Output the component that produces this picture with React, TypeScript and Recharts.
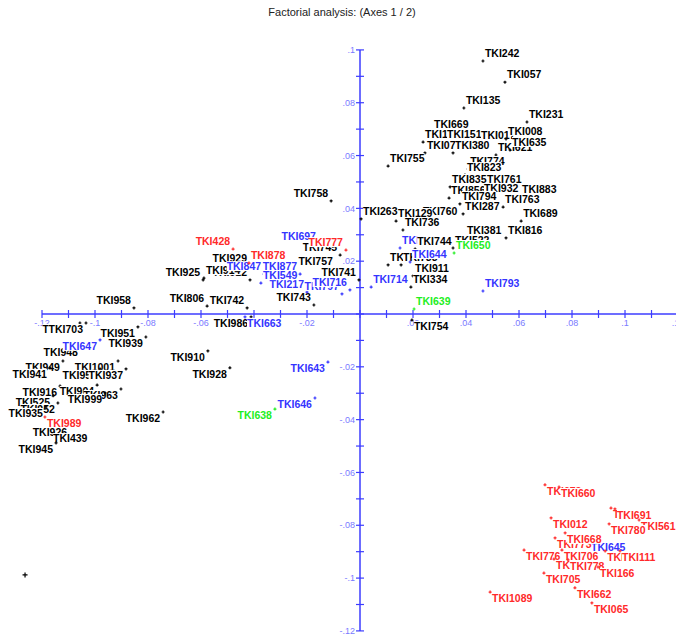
import { ScatterChart, Scatter, XAxis, YAxis, ReferenceLine } from 'recharts';

type Pt = [string, number, number];

// factorial coordinates: [name, axis 1, axis 2]
const blackPoints: Pt[] = [
  ['TKI242', 0.0464, 0.0958], ['TKI057', 0.0547, 0.0878], ['TKI135', 0.0392, 0.078],
  ['TKI231', 0.063, 0.0727], ['TKI669', 0.0272, 0.0689], ['TKI150', 0.0238, 0.0651],
  ['TKI151', 0.0321, 0.0651], ['TKI017', 0.0449, 0.0647], ['TKI008', 0.0551, 0.0663],
  ['TKI071', 0.0245, 0.061], ['TKI380', 0.0351, 0.061], ['TKI621', 0.0513, 0.0602],
  ['TKI635', 0.0566, 0.0621], ['TKI755', 0.0106, 0.056], ['TKI774', 0.0408, 0.0549],
  ['TKI823', 0.0396, 0.0526], ['TKI835', 0.034, 0.0481], ['TKI761', 0.0472, 0.0481],
  ['TKI856', 0.0336, 0.0439], ['TKI932', 0.046, 0.0447], ['TKI883', 0.0604, 0.0443],
  ['TKI794', 0.0377, 0.0417], ['TKI763', 0.054, 0.0405], ['TKI287', 0.0389, 0.0379],
  ['TKI689', 0.0608, 0.0352], ['TKI816', 0.0551, 0.0288], ['TKI381', 0.0396, 0.0288],
  ['TKI760', 0.023, 0.036], ['TKI263', 0.0004, 0.036], ['TKI129', 0.0136, 0.0352],
  ['TKI736', 0.0162, 0.0318], ['TKI744', 0.0208, 0.0246], ['TKI522', 0.0351, 0.025],
  ['TKI726', 0.0106, 0.0186], ['TKI733', 0.0155, 0.0186], ['TKI911', 0.02, 0.0144],
  ['TKI334', 0.0192, 0.0102], ['TKI754', 0.0196, -0.0023], ['TKI758', -0.0109, 0.0428],
  ['TKI745', -0.0075, 0.0223], ['TKI757', -0.0091, 0.017], ['TKI741', -0.0004, 0.0129],
  ['TKI929', -0.0415, 0.0182], ['TKI912', -0.0415, 0.0129], ['TKI914', -0.0589, 0.0136],
  ['TKI925', -0.0592, 0.0129], ['TKI806', -0.0577, 0.003], ['TKI742', -0.0426, 0.0023],
  ['TKI743', -0.0174, 0.0034], ['TKI958', -0.0853, 0.0023], ['TKI986', -0.0411, -0.0011],
  ['TKI951', -0.0838, -0.0049], ['TKI939', -0.0808, -0.0087], ['TKI910', -0.0574, -0.014],
  ['TKI928', -0.0491, -0.0204], ['TKI962', -0.0743, -0.0371], ['TKI701', -0.1057, -0.0034],
  ['TKI703', -0.1034, -0.0034], ['TKI948', -0.1053, -0.0121], ['TKI949', -0.1121, -0.0178],
  ['TKI1001', -0.0913, -0.0178], ['TKI941', -0.117, -0.0204], ['TKI954', -0.0981, -0.0208],
  ['TKI937', -0.0883, -0.0208], ['TKI916', -0.1132, -0.0273], ['TKI904', -0.0992, -0.0269],
  ['TKI963', -0.0902, -0.0284], ['TKI999', -0.0962, -0.0299], ['TKI525', -0.1158, -0.031],
  ['TKI952', -0.114, -0.0337], ['TKI935', -0.1185, -0.0352], ['TKI926', -0.1094, -0.0424],
  ['TKI439', -0.1166, -0.05], ['TKI945', -0.1147, -0.0488], ['', -0.1264, -0.0988],
];

const bluePoints: Pt[] = [
  ['TKI649', 0.0151, 0.025], ['TKI644', 0.0189, 0.0197], ['TKI714', 0.0042, 0.0102],
  ['TKI793', 0.0464, 0.0087], ['TKI697', -0.0155, 0.0265], ['TKI217', -0.02, 0.0083],
  ['TKI797', -0.0068, 0.0076], ['TKI716', -0.0038, 0.0091], ['TKI877', -0.0226, 0.0151],
  ['TKI847', -0.0362, 0.0151], ['TKI549', -0.0374, 0.0117], ['TKI663', -0.0434, -0.0011],
  ['TKI647', -0.0981, -0.0098], ['TKI643', -0.0121, -0.0182], ['TKI646', -0.017, -0.0318],
  ['TKI645', 0.0864, -0.086],
];

const redPoints: Pt[] = [
  ['TKI428', -0.0479, 0.0246], ['TKI777', -0.0053, 0.0242], ['TKI878', -0.0419, 0.0193],
  ['TKI989', -0.1189, -0.039], ['TKI672', 0.0698, -0.0647], ['TKI660', 0.0751, -0.0655],
  ['TKI012', 0.0721, -0.0772], ['TKI687', 0.0947, -0.0735], ['TKI691', 0.0962, -0.0738],
  ['TKI561', 0.1053, -0.078], ['TKI780', 0.094, -0.0795], ['TKI773', 0.0736, -0.0848],
  ['TKI668', 0.0774, -0.0829], ['TKI776', 0.0619, -0.0894], ['TKI706', 0.0762, -0.0894],
  ['TKI164', 0.0925, -0.0897], ['TKI111', 0.0981, -0.0897], ['TKI770', 0.0732, -0.0928],
  ['TKI778', 0.0785, -0.0931], ['TKI166', 0.0898, -0.0958], ['TKI705', 0.0694, -0.0981],
  ['TKI1089', 0.0491, -0.1053], ['TKI662', 0.0811, -0.1037], ['TKI065', 0.0875, -0.1094],
];

const greenPoints: Pt[] = [
  ['TKI650', 0.0355, 0.0231], ['TKI639', 0.0204, 0.0019], ['TKI638', -0.0321, -0.036],
];

const xTickValues = [
  -0.12, -0.11, -0.1, -0.09, -0.08, -0.07, -0.06, -0.05, -0.04, -0.03, -0.02, -0.01, 0,
  0.01, 0.02, 0.03, 0.04, 0.05, 0.06, 0.07, 0.08, 0.09, 0.1, 0.11, 0.12,
];
const yTickValues = [
  -0.12, -0.11, -0.1, -0.09, -0.08, -0.07, -0.06, -0.05, -0.04, -0.03, -0.02, -0.01, 0,
  0.01, 0.02, 0.03, 0.04, 0.05, 0.06, 0.07, 0.08, 0.09, 0.1,
];
const xLabelValues = [-0.12, -0.1, -0.08, -0.06, -0.04, -0.02, 0.02, 0.04, 0.06, 0.08, 0.1, 0.12];
const xLabelTexts = ['-.12', '-.1', '-.08', '-.06', '-.04', '-.02', '.02', '.04', '.06', '.08', '.1', '.12'];
const yLabelValues = [0.1, 0.08, 0.06, 0.04, 0.02, -0.02, -0.04, -0.06, -0.08, -0.1, -0.12];
const yLabelTexts = ['.1', '.08', '.06', '.04', '.02', '-.02', '-.04', '-.06', '-.08', '-.1', '-.12'];

// where each label sits relative to its point (default: above-right)
const ABOVE_LEFT = new Set([
  'TKI758', 'TKI745', 'TKI757', 'TKI741', 'TKI929', 'TKI912', 'TKI925', 'TKI806', 'TKI742',
  'TKI743', 'TKI958', 'TKI697', 'TKI797', 'TKI716', 'TKI217', 'TKI877', 'TKI847', 'TKI428', 'TKI777',
]);
const BELOW_RIGHT = new Set([
  'TKI754', 'TKI663', 'TKI645', 'TKI989', 'TKI672', 'TKI660', 'TKI012', 'TKI687', 'TKI691',
  'TKI561', 'TKI780', 'TKI773', 'TKI668', 'TKI776', 'TKI706', 'TKI164', 'TKI111', 'TKI770',
  'TKI778', 'TKI166', 'TKI705', 'TKI1089', 'TKI662', 'TKI065',
]);
const BELOW_LEFT = new Set([
  'TKI986', 'TKI951', 'TKI939', 'TKI910', 'TKI928', 'TKI962', 'TKI703', 'TKI701', 'TKI948',
  'TKI949', 'TKI1001', 'TKI941', 'TKI954', 'TKI937', 'TKI916', 'TKI904', 'TKI963', 'TKI999',
  'TKI525', 'TKI952', 'TKI935', 'TKI926', 'TKI945', 'TKI647', 'TKI643', 'TKI646', 'TKI638',
]);
// labels that end up painted underneath the black ones
const DRAWN_UNDER = new Set(['TKI649']);

const AXIS = '#3c3cff';
const TICK_TEXT = '#7a7aff';
const FONT = 10.5;
const LABEL_FONT = '"Liberation Sans", Arial, sans-serif';

const toRows = (pts: Pt[]) => pts.map(([label, x, y]) => ({ label, x, y }));

const textWidth = (s: string) => {
  let w = 0;
  for (const c of s) w += c === 'T' ? 6.11 : c === 'K' ? 7.22 : c === 'I' ? 2.78 : 5.56;
  return (w * FONT) / 10;
};

function pointShape(color: string) {
  return (props: any) => {
    const { cx, cy, payload } = props;
    const label: string = payload.label;
    const left = ABOVE_LEFT.has(label) || BELOW_LEFT.has(label);
    const below = BELOW_RIGHT.has(label) || BELOW_LEFT.has(label);
    const w = textWidth(label);
    const tx = left ? cx - 3 : cx + 2;
    const ty = below ? cy + 6 : cy - 8;
    const arm = label ? 1.5 : 2.5;
    return (
      <g>
        {label && (
          <>
            <rect x={left ? tx - w : tx} y={ty - 5} width={w} height={10} fill="#fff" />
            <text
              x={tx}
              y={ty}
              dy="0.35em"
              textAnchor={left ? 'end' : 'start'}
              fontFamily={LABEL_FONT}
              fontSize={FONT}
              fontWeight="bold"
              fill={color}
            >
              {label}
            </text>
          </>
        )}
        <path d={`M${cx - arm},${cy}H${cx + arm}M${cx},${cy - arm}V${cy + arm}`} stroke={color} strokeWidth={1.2} />
      </g>
    );
  };
}

const xTickShape = (p: any) => (
  <line x1={p.cx} x2={p.cx} y1={p.cy - 4} y2={p.cy + 4} stroke={AXIS} strokeWidth={1.2} />
);
const yTickShape = (p: any) => (
  <line x1={p.cx - 4} x2={p.cx + 4} y1={p.cy} y2={p.cy} stroke={AXIS} strokeWidth={1.2} />
);
const xLabelShape = (p: any) => (
  <text x={p.cx} y={p.cy + 9} dy="0.35em" textAnchor="middle" fontFamily="Arial, sans-serif" fontSize={9} fill={TICK_TEXT}>
    {p.payload.label}
  </text>
);
const yLabelShape = (p: any) => (
  <text x={p.cx - 5} y={p.cy} dy="0.35em" textAnchor="end" fontFamily="Arial, sans-serif" fontSize={9} fill={TICK_TEXT}>
    {p.payload.label}
  </text>
);

export default function App() {
  const xTicks = xTickValues.map((x) => ({ x, y: 0 }));
  const yTicks = yTickValues.map((y) => ({ x: 0, y }));
  const xLabels = xLabelValues.map((x, i) => ({ x, y: 0, label: xLabelTexts[i] }));
  const yLabels = yLabelValues.map((y, i) => ({ x: 0, y, label: yLabelTexts[i] }));
  const blueRows = toRows(bluePoints);
  const blueUnder = blueRows.filter((r) => DRAWN_UNDER.has(r.label));
  const blueOver = blueRows.filter((r) => !DRAWN_UNDER.has(r.label));

  return (
    <div style={{ position: 'relative', width: 676, height: 634 }}>
      <div
        style={{
          position: 'absolute',
          top: -2,
          left: -4,
          width: 676,
          zIndex: 2,
          pointerEvents: 'none',
          textAlign: 'center',
          fontFamily: 'Arial, "Liberation Sans", sans-serif',
          fontSize: 11,
          lineHeight: '13px',
          color: '#222',
        }}
      >
        Factorial analysis: (Axes 1 / 2)
      </div>
      <ScatterChart width={676} height={634} margin={{ top: 0, right: 0, bottom: 0, left: 0 }}>
        <XAxis type="number" dataKey="x" domain={[-0.13283, 0.12226]} allowDataOverflow hide />
        <YAxis type="number" dataKey="y" domain={[-0.1242, 0.11587]} allowDataOverflow hide />
        <ReferenceLine segment={[{ x: -0.12, y: 0 }, { x: 0.12, y: 0 }]} stroke={AXIS} strokeWidth={1.5} />
        <ReferenceLine segment={[{ x: 0, y: -0.12 }, { x: 0, y: 0.1 }]} stroke={AXIS} strokeWidth={1.5} />
        <Scatter data={xTicks} shape={xTickShape} isAnimationActive={false} />
        <Scatter data={yTicks} shape={yTickShape} isAnimationActive={false} />
        <Scatter data={xLabels} shape={xLabelShape} isAnimationActive={false} />
        <Scatter data={yLabels} shape={yLabelShape} isAnimationActive={false} />
        <Scatter data={blueUnder} shape={pointShape('#3434ff')} isAnimationActive={false} />
        <Scatter data={toRows(blackPoints)} shape={pointShape('#000')} isAnimationActive={false} />
        <Scatter data={blueOver} shape={pointShape('#3434ff')} isAnimationActive={false} />
        <Scatter data={toRows(redPoints)} shape={pointShape('#ff2a2a')} isAnimationActive={false} />
        <Scatter data={toRows(greenPoints)} shape={pointShape('#22ee22')} isAnimationActive={false} />
      </ScatterChart>
    </div>
  );
}
